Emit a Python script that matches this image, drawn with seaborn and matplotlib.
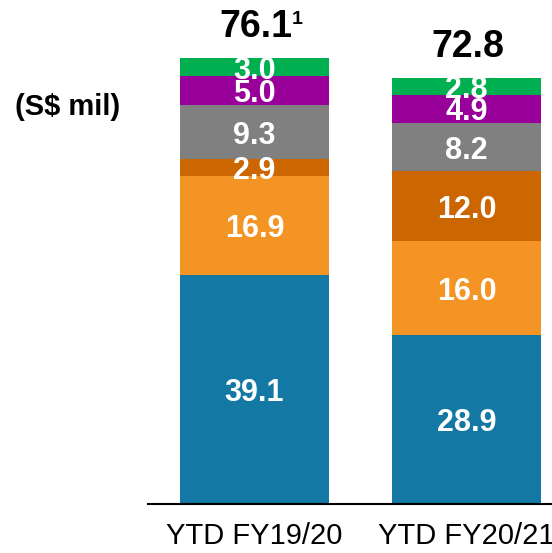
import numpy as np
import seaborn as sns
import matplotlib.pyplot as plt

# chart data (S$ mil), stacked bottom -> top
periods = ["YTD FY19/20", "YTD FY20/21"]
seg_blue = [39.1, 28.9]
seg_orange = [16.9, 16.0]
seg_dark_orange = [2.9, 12.0]
seg_gray = [9.3, 8.2]
seg_purple = [5.0, 4.9]
seg_green = [3.0, 2.8]
total_labels = ["76.1", "72.8"]
total_notes = ["1", ""]

segments = [seg_blue, seg_orange, seg_dark_orange, seg_gray, seg_purple, seg_green]
colors = ["#1379A4", "#F39424", "#CC6600", "#808080", "#990099", "#00B050"]

sns.set_style("white")
plt.rcParams['font.family'] = ['Liberation Sans', 'DejaVu Sans']

fig = plt.figure(figsize=(5.52, 5.53), dpi=100)
ax = fig.add_axes([148 / 552, 49 / 553, 404 / 552, 504 / 553])

# cumulative tops, drawn from the tallest down so each layer shows its own band
vals = np.array(segments)
tops = vals.cumsum(axis=0)
bottoms = tops - vals
for i in range(len(segments) - 1, -1, -1):
    sns.barplot(x=periods, y=tops[i], color=colors[i], saturation=1,
                width=0.70, linewidth=0, ax=ax)

# white labels in each band
for i in range(len(segments)):
    for j in range(len(periods)):
        ax.text(j, bottoms[i, j] + vals[i, j] / 2, f"{vals[i, j]:.1f}",
                ha="center", va="center_baseline", color="white",
                fontsize=22, fontweight="bold")

# totals above bars
totals = tops[-1]
for j in range(len(periods)):
    t = ax.text(j + 0.005, totals[j] + 3.6, total_labels[j], ha="center",
                va="baseline", fontsize=27, fontweight="bold", color="black")
    if total_notes[j]:
        ax.annotate(total_notes[j], xy=(1, 1), xycoords=t, xytext=(0, -1),
                    textcoords="offset points", ha="left", va="top",
                    fontsize=14, fontweight="bold", color="black")

ax.set_xlim(-0.502, 1.403)
ax.set_ylim(0, 504 / 5.85)
ax.set_yticks([])
ax.set_ylabel("")
for s in ["top", "right", "left"]:
    ax.spines[s].set_visible(False)
ax.spines["bottom"].set_color("black")
ax.spines["bottom"].set_linewidth(1.5)
ax.tick_params(axis="x", length=0, pad=13, labelsize=21, labelcolor="black")

fig.text(15 / 552, 1 - 107 / 553, "(S$ mil)", ha="left", va="center",
         fontsize=21, fontweight="bold", color="black")

fig.savefig("out.png", dpi=100)
